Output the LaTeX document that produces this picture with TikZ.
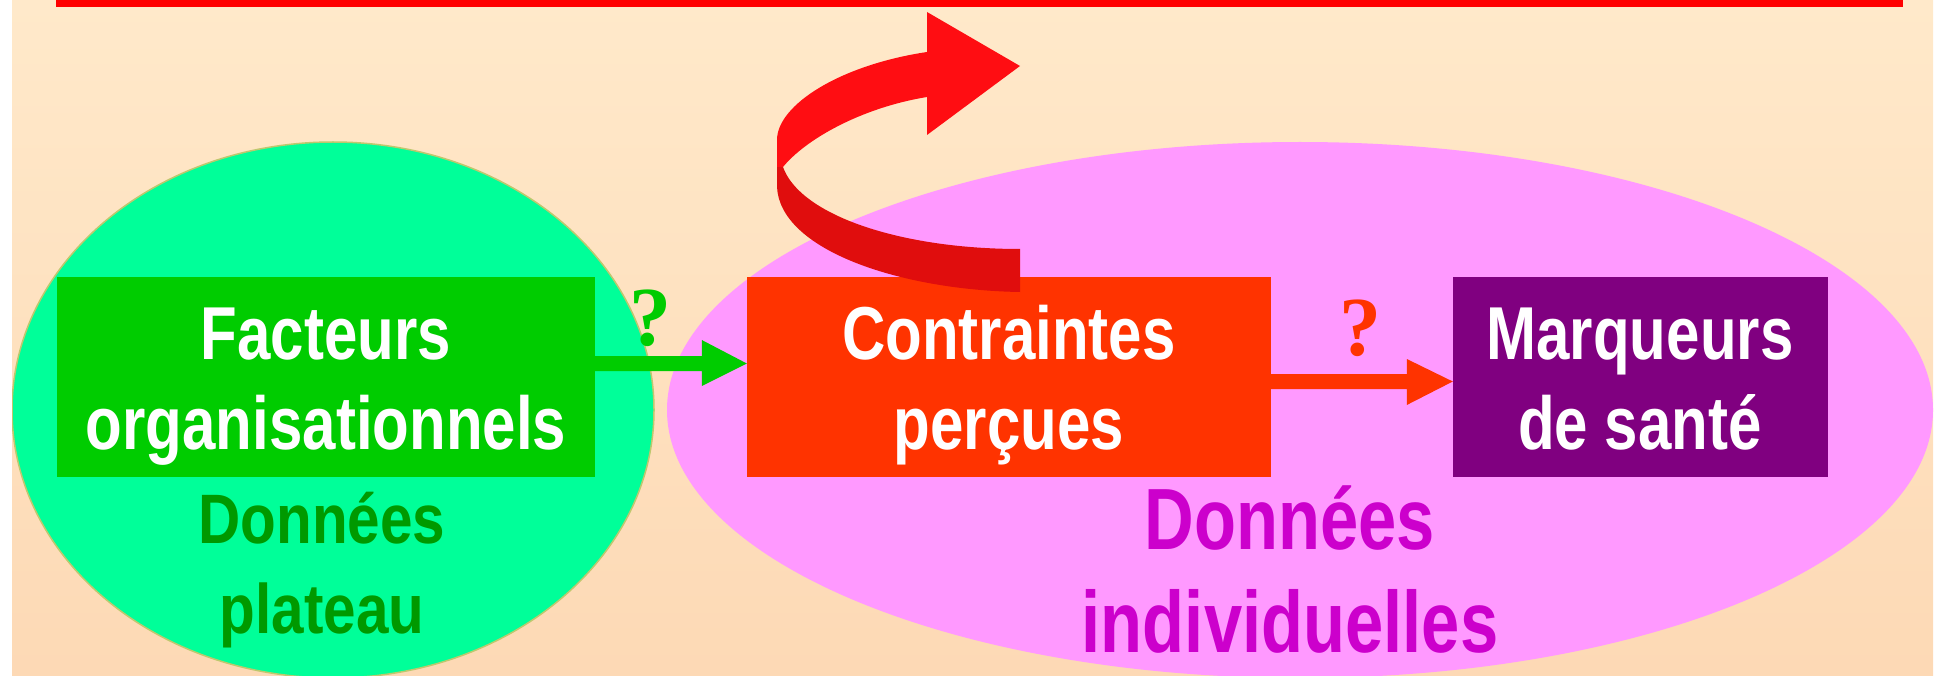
\documentclass[tikz,border=0pt]{standalone}
\usepackage{fontspec}
\setmainfont{Liberation Sans}
\newfontfamily\boxfont[FakeStretch=0.80]{Liberation Sans}
\newfontfamily\plfont[FakeStretch=0.835]{Liberation Sans}
\newfontfamily\indfont[FakeStretch=0.79]{Liberation Sans}
\newfontfamily\qfont{Liberation Serif}
\usetikzlibrary{calc}
\definecolor{bgtop}{RGB}{255,233,202}
\definecolor{bgbot}{RGB}{253,217,181}
\definecolor{ellgreen}{RGB}{0,255,153}
\definecolor{ellpink}{RGB}{255,153,255}
\definecolor{boxgreen}{RGB}{0,204,0}
\definecolor{boxred}{RGB}{255,51,0}
\definecolor{boxpurple}{RGB}{128,0,128}
\definecolor{txtgreen}{RGB}{0,153,0}
\definecolor{txtmagenta}{RGB}{204,0,204}
\definecolor{arrup}{RGB}{255,13,18}
\definecolor{arrlow}{RGB}{224,13,13}
\definecolor{topline}{RGB}{255,0,0}
\definecolor{olive}{RGB}{190,200,110}
\begin{document}
\begin{tikzpicture}[x=1pt,y=-1pt,
  cbox/.style={draw=none,inner sep=0pt,minimum width=#1,minimum height=200pt},
  txt/.style={inner sep=0pt,text height=0pt,anchor=north,align=center},
  boxtxt/.style={txt,text=white,font=\boxfont\bfseries\fontsize{75}{90}\selectfont},
  qmark/.style={inner sep=0pt,anchor=base,font=\qfont\bfseries\fontsize{84}{90}\selectfont}]
\useasboundingbox (0,0) rectangle (1937,676);
\shade[top color=bgtop,bottom color=bgbot] (12,0) rectangle (1933,676);
\fill[topline] (56,0) rectangle (1903,7);
\begin{scope}
\clip (12,0) rectangle (1933,676);
\fill[ellgreen,draw=olive,line width=1.5pt] (333,410) ellipse [x radius=321,y radius=268];
\fill[ellpink] (1300,410) ellipse [x radius=633,y radius=268];
\end{scope}
% boxes
\node[cbox=538pt,fill=boxgreen] (fo) at (326,377) {};
\node[cbox=524pt,fill=boxred] (cp) at (1009,377) {};
\node[cbox=375pt,fill=boxpurple] (mk) at (1640.5,377) {};
% texts (north anchor = baseline of the last line)
\node[boxtxt] (fot) at (326,449) {Facteurs\\organisationnels};
\node[boxtxt] (cpt) at (1009,449) {Contraintes\\perçues};
\node[boxtxt] (mkt) at (1640,449) {Marqueurs\\de santé};
% group labels
\node[txt,text=txtgreen,font=\plfont\bfseries\fontsize{70}{90}\selectfont] (dp) at (322,633) {Données\\plateau};
\node[txt,text=txtmagenta,font=\indfont\bfseries\fontsize{87}{103}\selectfont] (di) at (1290,652) {Données\\individuelles};
% straight arrows
\fill[boxgreen] ($(fo.east)+(0,-21)$) -- ($(cp.west)+(-45,-21)$) -- ($(cp.west)+(-45,-37)$)
  -- ($(cp.west)+(0,-13.5)$) -- ($(cp.west)+(-45,9)$) -- ($(cp.west)+(-45,-6)$)
  -- ($(fo.east)+(0,-6)$) -- cycle;
\fill[boxred] ($(cp.east)+(0,-3)$) -- ($(mk.west)+(-46,-3)$) -- ($(mk.west)+(-46,-18)$)
  -- ($(mk.west)+(0,4.5)$) -- ($(mk.west)+(-46,28)$) -- ($(mk.west)+(-46,12)$)
  -- ($(cp.east)+(0,12)$) -- cycle;
\node[qmark,text=boxgreen] (q1) at (650,345) {?};
\node[qmark,text=boxred] (q2) at (1360,355) {?};
% curved arrow
\fill[arrlow] (1020,249) -- (1020,292) .. controls (900,290) and (780,250) .. (777,187)
  -- (777,167) -- (783,167) .. controls (800,215) and (900,249) .. (1020,249) -- cycle;
\fill[arrup] (777,167) -- (777,140) .. controls (777,105) and (840,65) .. (927,52) -- (927,12) -- (1020,66)
  -- (927,135) -- (927,97) .. controls (860,108) and (805,140) .. (783,167) -- cycle;
\end{tikzpicture}
\end{document}
